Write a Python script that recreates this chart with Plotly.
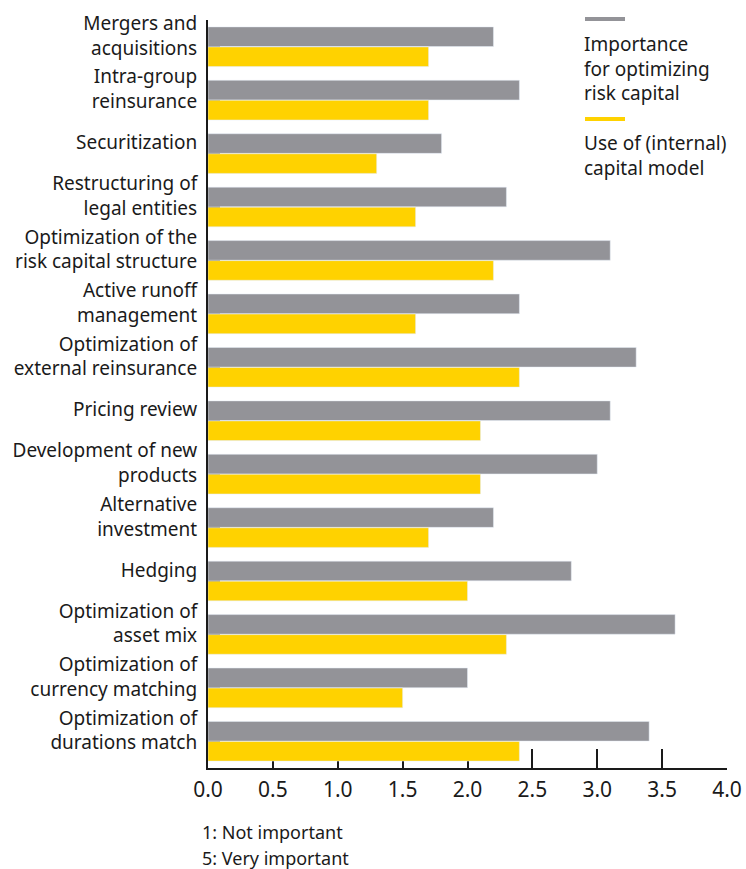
import plotly.graph_objects as go

categories = [
    "Mergers and<br>acquisitions",
    "Intra-group<br>reinsurance",
    "Securitization",
    "Restructuring of<br>legal entities",
    "Optimization of the<br>risk capital structure",
    "Active runoff<br>management",
    "Optimization of<br>external reinsurance",
    "Pricing review",
    "Development of new<br>products",
    "Alternative<br>investment",
    "Hedging",
    "Optimization of<br>asset mix",
    "Optimization of<br>currency matching",
    "Optimization of<br>durations match",
]
importance = [2.2, 2.4, 1.8, 2.3, 3.1, 2.4, 3.3, 3.1, 3.0, 2.2, 2.8, 3.6, 2.0, 3.4]
use_model = [1.7, 1.7, 1.3, 1.6, 2.2, 1.6, 2.4, 2.1, 2.1, 1.7, 2.0, 2.3, 1.5, 2.4]
series_names = ["Importance<br>for optimizing<br>risk capital", "Use of (internal)<br>capital model"]
notes = ["1: Not important", "5: Very important"]
x_ticks = [0.0, 0.5, 1.0, 1.5, 2.0, 2.5, 3.0, 3.5, 4.0]

GRAY = "#939398"
YELLOW = "#FFD200"
TXT = "#1a1a1a"
FONT = "Noto Sans"

fig = go.Figure()
fig.add_trace(go.Bar(y=categories, x=importance, orientation="h", marker_color=GRAY,
                     name=series_names[0], showlegend=False))
fig.add_trace(go.Bar(y=categories, x=use_model, orientation="h", marker_color=YELLOW,
                     name=series_names[1], showlegend=False))

fig.update_layout(
    width=746, height=869,
    margin=dict(l=208, r=19, t=20, b=101, autoexpand=False),
    paper_bgcolor="white", plot_bgcolor="white",
    barmode="group", bargap=0.25, bargroupgap=0.02,
    font=dict(family=FONT, color=TXT, size=19),
    xaxis=dict(range=[0, 4], tickvals=x_ticks, ticktext=[f"{v:.1f}" for v in x_ticks],
               showgrid=False, zeroline=False, showline=True, linecolor=TXT, linewidth=2,
               ticks="inside", ticklen=19, tickwidth=2, tickcolor=TXT, automargin=False,
               tickfont=dict(size=21, color=TXT, family=FONT), ticklabelstandoff=2,
               layer="below traces"),
    yaxis=dict(categoryorder="array", categoryarray=categories, autorange="reversed",
               range=[13.5, -0.5], automargin=False,
               showgrid=False, zeroline=False, showline=True, linecolor=TXT, linewidth=2,
               ticks="inside", ticklen=12, tickwidth=1.5, tickcolor=TXT,
               tickfont=dict(size=19, color=TXT, family=FONT),
               ticklabelshift=11, ticklabelstandoff=5, layer="below traces"),
)

# custom legend
def px_x(x):
    return (x - 208) / 519.0

def px_y(y):
    return (768 - y) / 748.0

fig.add_shape(type="line", xref="paper", yref="paper",
              x0=px_x(585), x1=px_x(625), y0=px_y(19), y1=px_y(19),
              line=dict(color=GRAY, width=4))
fig.add_shape(type="line", xref="paper", yref="paper",
              x0=px_x(585), x1=px_x(625), y0=px_y(119), y1=px_y(119),
              line=dict(color=YELLOW, width=4))
fig.add_annotation(xref="paper", yref="paper", x=px_x(582), y=px_y(29),
                   xanchor="left", yanchor="top", align="left", showarrow=False,
                   text=series_names[0], font=dict(size=19, color=TXT, family=FONT))
fig.add_annotation(xref="paper", yref="paper", x=px_x(582), y=px_y(128),
                   xanchor="left", yanchor="top", align="left", showarrow=False,
                   text=series_names[1], font=dict(size=19, color=TXT, family=FONT))

for i, n in enumerate(notes):
    fig.add_annotation(xref="paper", yref="paper", x=px_x(200), y=px_y(832 + 26 * i),
                       xanchor="left", yanchor="middle", showarrow=False,
                       text=n, font=dict(size=18, color=TXT, family=FONT))

fig.write_html("out.html", config={"displayModeBar": False},
               post_script="document.body.style.margin='0';document.body.style.overflow='hidden';")
